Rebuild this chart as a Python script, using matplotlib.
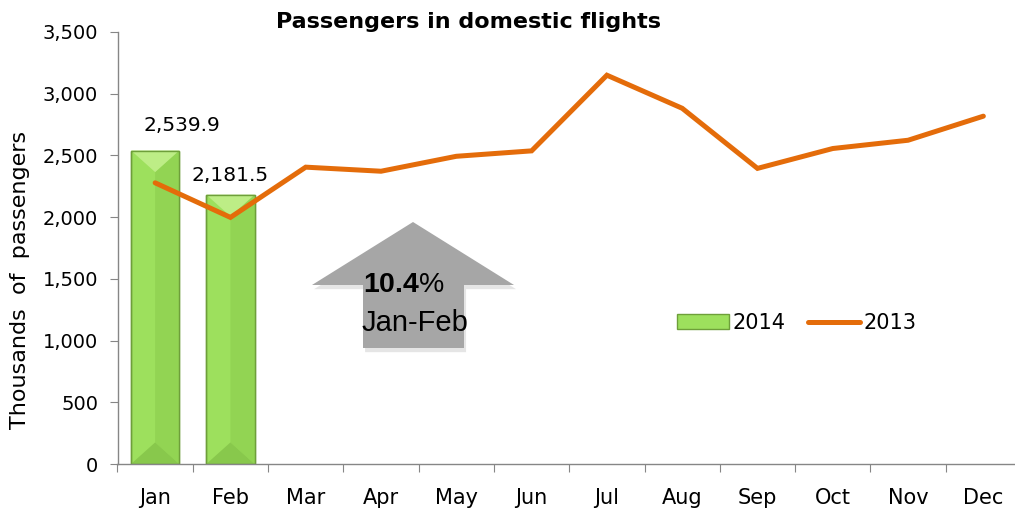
import matplotlib
matplotlib.use("Agg")
import matplotlib.pyplot as plt
from matplotlib.patches import Polygon, Patch
from matplotlib.lines import Line2D
import matplotlib.patheffects as pe
from matplotlib.ticker import FuncFormatter, FixedLocator

months = ["Jan", "Feb", "Mar", "Apr", "May", "Jun", "Jul", "Aug", "Sep", "Oct", "Nov", "Dec"]
values_2014 = [2539.9, 2181.5]
values_2013 = [2278, 1998, 2405, 2372, 2493, 2537, 3150, 2882, 2395, 2556, 2623, 2818]
bar_labels = ["2,539.9", "2,181.5"]
title = "Passengers in domestic flights"
ylabel = "Thousands  of  passengers"
change_pct = "10.4"
change_period = "Jan-Feb"

W, H = 1015, 512
fig = plt.figure(figsize=(W / 100, H / 100), dpi=100)
plt.rcParams['mathtext.fontset'] = 'custom'
plt.rcParams['mathtext.bf'] = 'Liberation Sans:bold'
plt.rcParams['mathtext.rm'] = 'Liberation Sans'

ax = fig.add_axes([117.5 / W, (H - 464) / H, (1021 - 117.5) / W, 432 / H])
ax.set_xlim(-0.5, 11.5)
ax.set_ylim(0, 3500)

grey = "#868686"
for s in ["top", "right"]:
    ax.spines[s].set_visible(False)
for s in ["left", "bottom"]:
    ax.spines[s].set_color(grey)
    ax.spines[s].set_linewidth(1.0)

# bars with bevel
face_left = "#9DE05D"
face_right = "#92D453"
face_top = "#BDED86"
face_bottom = "#88C84C"
edge = "#6E9F3A"
x14 = list(range(len(values_2014)))
bars = ax.bar(x14, values_2014, width=0.64, color=face_left, edgecolor=edge, linewidth=1.0, zorder=2)
d = 0.05 * 3500
for r in bars:
    x0 = r.get_x(); w = r.get_width(); h = r.get_height()
    x1 = x0 + w; xc = x0 + w / 2
    ax.add_patch(Polygon([(xc, d), (x1, 0), (x1, h), (xc, h - d)], closed=True,
                         facecolor=face_right, edgecolor="none", zorder=2.1))
    ax.add_patch(Polygon([(x0, h), (x1, h), (xc, h - d)], closed=True,
                         facecolor=face_top, edgecolor="none", zorder=2.2))
    ax.add_patch(Polygon([(x0, 0), (x1, 0), (xc, d)], closed=True,
                         facecolor=face_bottom, edgecolor="none", zorder=2.2))
    ax.add_patch(Polygon([(x0, 0), (x1, 0), (x1, h), (x0, h)], closed=True,
                         facecolor="none", edgecolor=edge, linewidth=1.0, zorder=2.3))

label_offsets = [(19, 18), (0, 13.5)]
for r, lab, off in zip(bars, bar_labels, label_offsets):
    ax.annotate(lab, (r.get_x() + r.get_width() / 2, r.get_height()), xytext=off,
                textcoords="offset points", ha="center", va="center", fontsize=14.5,
                family="DejaVu Sans", zorder=5)

orange = "#E46C0A"
ax.plot(range(len(values_2013)), values_2013, color=orange, lw=3.6,
        solid_joinstyle="miter", solid_capstyle="round", zorder=3)

# ticks
ax.set_yticks(range(0, 3501, 500))
ax.yaxis.set_major_formatter(FuncFormatter(lambda v, p: f"{int(v):,}"))
ax.tick_params(axis="y", direction="out", length=6, color=grey, labelsize=14, pad=8)
ax.xaxis.set_major_locator(FixedLocator([i - 0.5 for i in range(13)]))
ax.xaxis.set_minor_locator(FixedLocator(list(range(12))))
ax.set_xticklabels([], minor=False)
ax.set_xticklabels(months, minor=True)
ax.tick_params(axis="x", which="major", direction="out", length=6, color=grey)
ax.tick_params(axis="x", which="minor", length=0, labelsize=15, pad=17)
for t in ax.get_xticklabels(minor=True) + ax.get_yticklabels():
    t.set_family("DejaVu Sans")

ax.set_ylabel(ylabel, fontsize=16, family="DejaVu Sans", va="center")
ax.yaxis.set_label_coords(-97.5 / 903.5, (464 - 280) / 432)

fig.text(468 / W, 1 - 22 / H, title, ha="center", va="center", fontsize=16,
         fontweight="bold", family="DejaVu Sans")

# grey up arrow
pts = [(413, 222), (514, 285), (464, 285), (464, 348), (363, 348), (363, 285), (312, 285)]
arrow = Polygon([(x / W, 1 - y / H) for x, y in pts], closed=True, transform=fig.transFigure,
                facecolor="#A6A6A6", edgecolor="none", zorder=4,
                path_effects=[pe.SimplePatchShadow(offset=(1.5, -3), shadow_rgbFace="#9A9A9A", alpha=0.25),
                              pe.Normal()])
fig.patches.append(arrow)
fig.text(363 / W, 1 - 285 / H, r"$\mathbf{" + change_pct + r"}$%", ha="left", va="center",
         fontsize=20.5, family="Liberation Sans", zorder=6)
fig.text(362 / W, 1 - 323 / H, change_period, ha="left", va="center",
         fontsize=21, family="Liberation Sans", zorder=6)

handles = [Patch(facecolor=face_left, edgecolor=edge, linewidth=1.0),
           Line2D([0], [0], color=orange, lw=3.6, solid_capstyle="round")]
leg = fig.legend(handles, ["2014", "2013"], loc="center left", bbox_to_anchor=(677 / W, 1 - 323 / H),
                 ncol=2, frameon=False, handlelength=2.5, handleheight=0.75,
                 handletextpad=0.15, columnspacing=1.1, borderpad=0, borderaxespad=0,
                 prop={"family": "DejaVu Sans", "size": 15})

fig.savefig("out.png", dpi=100)
